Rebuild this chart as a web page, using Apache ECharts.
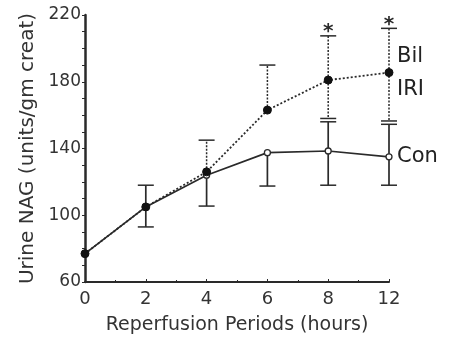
<!DOCTYPE html>
<html>
<head>
<meta charset="utf-8">
<script src="https://cdn.jsdelivr.net/npm/echarts@6/dist/echarts.min.js"></script>
<style>
  html, body { margin: 0; padding: 0; background: #fff; }
  #chart { width: 451px; height: 340px; }
</style>
</head>
<body>
<div id="chart"></div>
<script>
// Reperfusion time points (hours)
const periods = ['0', '2', '4', '6', '8', '12'];

// Mean urine NAG, units/gm creat
const bilIri = [77, 105, 126, 163, 181, 185.5];
const con    = [77, 105, 124, 137.5, 138.5, 135];

// Error bar ends (null = half not drawn)
const bilHigh = [null, null, 145, 190, 207.5, 212];
const bilLow  = [null, null, null, null, 158, 156.5];
const conHigh = [null, 118, null, null, 156, 154.5];
const conLow  = [null, 93, 105.5, 117.5, 118, 118];

// Significance marks over the Bil IRI bars
const sig = ['', '', '', '', '*', '*'];

const FONT = 'DejaVu Sans';
const INK = '#2a2a2a';

function pts(values) {
  return values.map((v, i) => [i, v]);
}

function errorSeries(name, means, lows, highs, dashed, marks) {
  const data = means.map((m, i) => [i, m, lows[i], highs[i], marks ? marks[i] : '']);
  return {
    type: 'custom',
    name: name,
    z: 1,
    silent: true,
    data: data,
    renderItem: function (params, api) {
      const i = api.value(0);
      const mean = api.value(1);
      const lo = data[params.dataIndex][2];
      const hi = data[params.dataIndex][3];
      const mark = data[params.dataIndex][4];
      const style = {
        stroke: INK,
        lineWidth: dashed ? 1.5 : 1.7,
        lineDash: dashed ? [2, 1.5] : null
      };
      const capStyle = { stroke: INK, lineWidth: 1.5 };
      const half = 8;
      const c = api.coord([i, mean]);
      const children = [];
      [lo, hi].forEach(function (end) {
        if (end == null) return;
        const e = api.coord([i, end]);
        children.push({ type: 'line', shape: { x1: c[0], y1: c[1], x2: e[0], y2: e[1] }, style: style });
        children.push({ type: 'line', shape: { x1: e[0] - half, y1: e[1], x2: e[0] + half, y2: e[1] }, style: capStyle });
      });
      if (mark && hi != null) {
        const e = api.coord([i, hi]);
        children.push({
          type: 'text',
          style: {
            text: mark, x: e[0], y: e[1] + 6,
            textAlign: 'center', textVerticalAlign: 'bottom',
            font: 'bold 20px ' + FONT, fill: INK
          }
        });
      }
      return { type: 'group', children: children };
    }
  };
}

const chart = echarts.init(document.getElementById('chart'), null, { renderer: 'canvas' });

chart.setOption({
  animation: false,
  backgroundColor: '#fff',
  grid: { left: 85, right: 62, top: 15, bottom: 56 },
  xAxis: {
    type: 'value',
    min: 0, max: periods.length - 1, interval: 1,
    name: 'Reperfusion Periods (hours)',
    nameLocation: 'middle',
    nameGap: 34,
    nameTextStyle: { fontFamily: FONT, fontSize: 19, color: '#333' },
    axisLine: { show: true, lineStyle: { color: INK, width: 2 } },
    axisTick: { show: true, inside: true, length: 3, lineStyle: { color: INK } },
    minorTick: { show: true, splitNumber: 2, length: 2, lineStyle: { color: INK } },
    splitLine: { show: false },
    axisLabel: {
      fontFamily: FONT, fontSize: 18, color: '#333', margin: 8,
      formatter: function (v) { return periods[v] != null ? periods[v] : ''; }
    }
  },
  yAxis: {
    type: 'value',
    min: 60, max: 220, interval: 40,
    name: 'Urine NAG (units/gm creat)',
    nameLocation: 'middle',
    nameGap: 45,
    nameTextStyle: { fontFamily: FONT, fontSize: 20, color: '#333' },
    axisLine: { show: true, lineStyle: { color: INK, width: 2.5 } },
    axisTick: { show: true, length: 3, lineStyle: { color: INK } },
    minorTick: { show: true, splitNumber: 4, length: 3, lineStyle: { color: INK } },
    splitLine: { show: false },
    axisLabel: { fontFamily: FONT, fontSize: 17, color: '#333', margin: 4 }
  },
  series: [
    errorSeries('Con SE', con, conLow, conHigh, false, null),
    errorSeries('Bil IRI SE', bilIri, bilLow, bilHigh, true, sig),
    {
      type: 'line',
      name: 'Con',
      z: 3,
      data: pts(con),
      symbol: 'circle',
      symbolSize: 6,
      itemStyle: { color: '#fff', borderColor: INK, borderWidth: 1.3 },
      lineStyle: { color: INK, width: 1.7 },
      endLabel: {
        show: true, formatter: 'Con', distance: 8,
        fontFamily: FONT, fontSize: 21, color: '#222'
      }
    },
    {
      type: 'line',
      name: 'Bil IRI',
      z: 4,
      data: pts(bilIri),
      symbol: 'circle',
      symbolSize: 8,
      itemStyle: { color: '#111', borderColor: '#111' },
      lineStyle: { color: INK, width: 1.8, type: [2, 2] },
      endLabel: {
        show: true, formatter: 'Bil\nIRI', distance: 8,
        lineHeight: 33,
        fontFamily: FONT, fontSize: 21, color: '#222'
      }
    }
  ]
});
</script>
</body>
</html>
